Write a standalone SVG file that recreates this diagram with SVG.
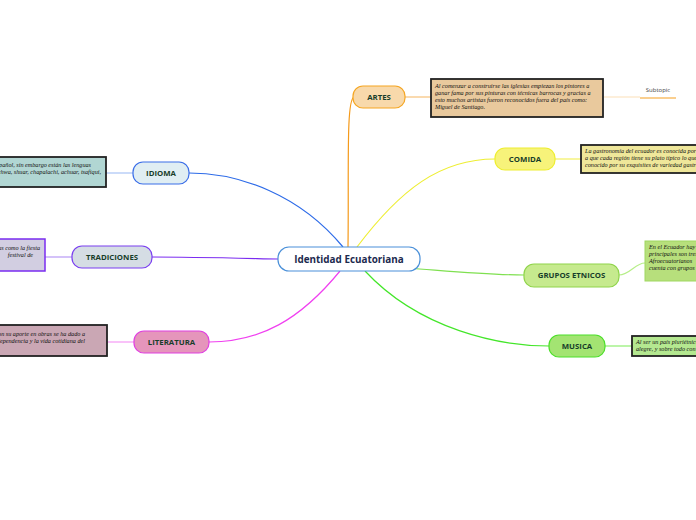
<svg xmlns="http://www.w3.org/2000/svg" width="696" height="520" viewBox="0 0 696 520">
<style>
.node text{font-family:"Open Sans","Noto Sans",sans-serif;font-weight:bold;font-size:7.8px;fill:#173d2a;text-anchor:middle}
.note{font-family:"Liberation Serif","DejaVu Serif",serif;font-style:italic;font-size:6.2px;fill:#111}
.conn path{fill:none;stroke-width:1.2}
.box{stroke:#222;stroke-width:1.8}
</style>
<rect width="696" height="520" fill="#ffffff"/>
<g id="connectors" class="conn">
<path d="M348,247 C349,170 346,100 354,97" stroke="#f59a1a"/>
<path d="M405,97 L431,97" stroke="#f7c27a"/>
<path d="M604,97 L640,97" stroke="#fbe0b8"/>
<path d="M640,98 L676,98" stroke="#f5a020"/>
<path d="M357,247 C400,190 440,159 495,159" stroke="#eeee33"/>
<path d="M555,159 L581,159" stroke="#f3f060"/>
<path d="M343,247 C300,195 240,173 189,173" stroke="#2d6be8"/>
<path d="M133,173 L106,173" stroke="#a9c3f5"/>
<path d="M278,259 C230,258 190,257 152,257" stroke="#7b2cf0"/>
<path d="M72,257 L45,257" stroke="#b89af5"/>
<path d="M340,271 C300,320 260,342 209,342" stroke="#f040f0"/>
<path d="M134,342 L107,342" stroke="#f59af5"/>
<path d="M408,268 C460,272 490,275 524,275" stroke="#7fe050"/>
<path d="M619,275 C630,275 635,263 645,263" stroke="#b6ee88"/>
<path d="M365,271 C420,330 500,346 549,346" stroke="#44e62a"/>
<path d="M605,346 L632,346" stroke="#8fef70"/>
</g>
<g id="center" class="node">
<rect x="278" y="247" width="142" height="24" rx="11" fill="#ffffff" stroke="#4a90d9" stroke-width="1.2"/>
<text x="349" y="263" style="font-size:9.9px;fill:#1c2a4e">Identidad Ecuatoriana</text>
</g>
<g id="artes" class="node">
<rect x="353" y="86" width="52" height="22" rx="10" fill="#f8d9ab" stroke="#f5a623" stroke-width="1.2"/>
<text x="379" y="100">ARTES</text>
</g>
<g id="artes-note">
<rect x="431" y="79" width="172" height="38" fill="#e9c99d" class="box"/>
<text class="note" x="435" y="88">Al comenzar a construirse las iglesias empiezan los pintores a</text>
<text class="note" x="435" y="95">ganar fama por sus pinturas con técnicas barrocas y gracias a</text>
<text class="note" x="435" y="102">esto muchos artistas fueron reconocidos fuera del país como:</text>
<text class="note" x="435" y="109">Miguel de Santiago.</text>
</g>
<g id="subtopic">
<text x="658" y="92" text-anchor="middle" style="font-family:'Open Sans','Noto Sans',sans-serif;font-size:6px;fill:#444">Subtopic</text>
</g>
<g id="comida" class="node">
<rect x="495" y="148" width="60" height="22" rx="10" fill="#f7f37a" stroke="#eeee30" stroke-width="1.2"/>
<text x="525" y="162">COMIDA</text>
</g>
<g id="comida-note">
<rect x="581" y="145" width="130" height="28" fill="#efe79a" class="box"/>
<text class="note" x="585" y="153">La gastronomía del ecuador es conocida por</text>
<text class="note" x="585" y="160">a que cada región tiene su plato típico lo que</text>
<text class="note" x="585" y="167">conocido por su exquisites de variedad gastronómica</text>
</g>
<g id="grupos" class="node">
<rect x="524" y="264" width="95" height="23" rx="10" fill="#c6ea8e" stroke="#8fd44a" stroke-width="1.2"/>
<text x="571.5" y="278">GRUPOS ETNICOS</text>
</g>
<g id="grupos-note">
<rect x="645" y="241" width="70" height="40" fill="#b7df7c" stroke="#9fd860" stroke-width="1"/>
<text class="note" x="649" y="249">En el Ecuador hay</text>
<text class="note" x="649" y="256">principales son tres</text>
<text class="note" x="649" y="263">Afroecuatorianos</text>
<text class="note" x="649" y="270">cuenta con grupos</text>
</g>
<g id="musica" class="node">
<rect x="549" y="335" width="56" height="22" rx="10" fill="#a3e472" stroke="#4ddf2a" stroke-width="1.2"/>
<text x="577" y="349">MUSICA</text>
</g>
<g id="musica-note">
<rect x="632" y="336" width="80" height="20" fill="#b4e890" class="box"/>
<text class="note" x="636" y="344">Al ser un país pluriétnico</text>
<text class="note" x="636" y="351">alegre, y sobre todo con</text>
</g>
<g id="idioma" class="node">
<rect x="133" y="162" width="56" height="22" rx="10" fill="#e0eef3" stroke="#3b6ee8" stroke-width="1.2"/>
<text x="161" y="176">IDIOMA</text>
</g>
<g id="idioma-note">
<rect x="-20" y="157" width="126" height="30" fill="#b1d6d3" class="box"/>
<text class="note" x="91" y="167" text-anchor="end">El idioma oficial es el español, sin embargo están las lenguas</text>
<text class="note" x="101" y="174" text-anchor="end">ancestrales como el kichwa, shuar, chapalachi, achuar, tsafiqui,</text>
</g>
<g id="tradiciones" class="node">
<rect x="72" y="246" width="80" height="22" rx="10" fill="#d5dde4" stroke="#7a3ff0" stroke-width="1.2"/>
<text x="112" y="260">TRADICIONES</text>
</g>
<g id="tradiciones-note">
<rect x="-20" y="239" width="65" height="32" fill="#d2cee1" stroke="#7a2cf0" stroke-width="1.5"/>
<text class="note" x="40" y="250" text-anchor="end">fiestas como la fiesta</text>
<text class="note" x="33" y="257" text-anchor="end">festival de</text>
</g>
<g id="literatura" class="node">
<rect x="134" y="331" width="75" height="22" rx="10" fill="#e595bb" stroke="#e040e0" stroke-width="1.2"/>
<text x="171.5" y="345">LITERATURA</text>
</g>
<g id="literatura-note">
<rect x="-20" y="325" width="127" height="31" fill="#caa7b4" class="box"/>
<text class="note" x="85" y="336" text-anchor="end">Con su aporte en obras se ha dado a</text>
<text class="note" x="85" y="343" text-anchor="end">independencia y la vida cotidiana del</text>
</g>
</svg>
